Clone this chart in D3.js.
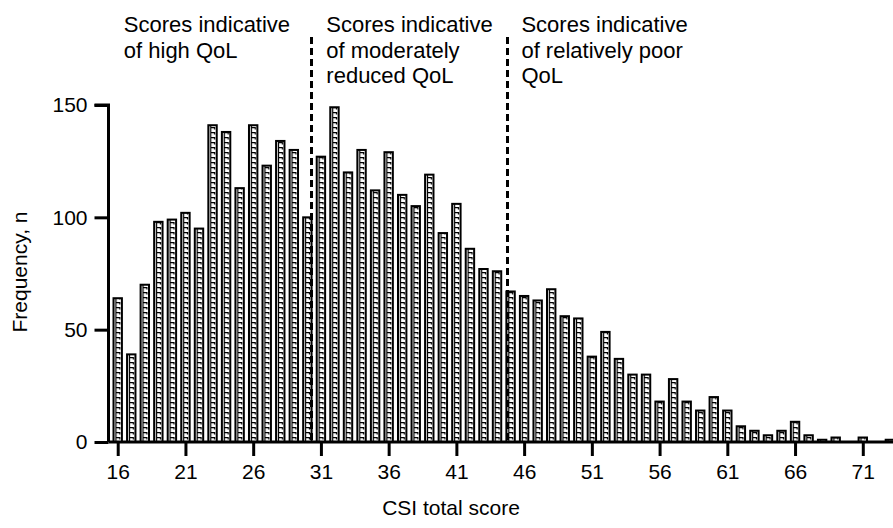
<!DOCTYPE html>
<html>
<head>
<meta charset="utf-8">
<script src="https://cdn.jsdelivr.net/npm/d3@7"></script>
<style>
  html, body { margin: 0; padding: 0; background: #fff; }
  svg { display: block; font-family: "Liberation Sans", Arial, sans-serif; }
</style>
</head>
<body>
<svg id="chart" width="893" height="528"></svg>
<script>
// ---- Data ----
const scores = d3.range(16, 74);
const frequencies = [64,39,70,98,99,102,95,141,138,113,141,123,134,130,100,127,
  149,120,130,112,129,110,105,119,93,106,86,77,76,67,
  65,63,68,56,55,38,49,37,30,30,18,28,18,14,20,14,7,5,3,5,9,3,1,2,0,2,0,1];
const xTicks = [16,21,26,31,36,41,46,51,56,61,66,71];
const yTicks = [0,50,100,150];
const cutoffs = [30.25, 44.72];
const regionLabels = [
  ["Scores indicative", "of high QoL"],
  ["Scores indicative", "of moderately", "reduced QoL"],
  ["Scores indicative", "of relatively poor", "QoL"]
];
const regionLabelScores = [16.45, 31.4, 45.8];
const xTitle = "CSI total score";
const yTitle = "Frequency, n";

// ---- Layout ----
const svg = d3.select("#chart");
const x = d3.scaleLinear().domain([15.32, 73.23]).range([108.5, 893]);
const y = d3.scaleLinear().domain([0, 150]).range([442, 105]);
const step = x(17) - x(16);
const barW = 8.4;
const ph = 5;

// pattern
const defs = svg.append("defs");
const pat = defs.append("pattern")
  .attr("id", "brick")
  .attr("patternUnits", "userSpaceOnUse")
  .attr("x", x(16) - barW / 2)
  .attr("y", y(0))
  .attr("width", step)
  .attr("height", ph);
pat.append("rect").attr("width", step).attr("height", ph).attr("fill", "#fff");
pat.append("path")
  .attr("d", `M2.4,0V${ph}M2.4,0.7H6.3V2.6`)
  .attr("fill", "none").attr("stroke", "#000").attr("stroke-width", 1.3);

const data = scores.map((s, i) => ({ s, v: frequencies[i] }));

svg.append("g").selectAll("rect")
  .data(data.filter(d => d.v > 0))
  .join("rect")
  .attr("x", d => x(d.s) - barW / 2)
  .attr("width", barW)
  .attr("y", d => y(d.v))
  .attr("height", d => y(0) - y(d.v))
  .attr("fill", "url(#brick)")
  .attr("stroke", "#000")
  .attr("stroke-width", 2);

// cutoff dashed lines
svg.append("g").selectAll("line")
  .data(cutoffs)
  .join("line")
  .attr("x1", d => Math.round(x(d)) + 0.5).attr("x2", d => Math.round(x(d)) + 0.5)
  .attr("y1", 37).attr("y2", y(0))
  .attr("stroke", "#000")
  .attr("stroke-width", 3)
  .attr("stroke-dasharray", "7,4");

// axes
const yAxis = d3.axisLeft(y).tickValues(yTicks).tickSize(14).tickPadding(7);
const gy = svg.append("g").attr("transform", `translate(${x.range()[0]},0)`).call(yAxis);
const xAxis = d3.axisBottom(x).tickValues(xTicks).tickSize(14).tickPadding(8);
const gx = svg.append("g").attr("transform", `translate(0,${y(0)})`).call(xAxis);
[gx, gy].forEach(g => {
  g.select(".domain").attr("stroke", "#000").attr("stroke-width", 3);
  g.selectAll(".tick line").attr("stroke", "#000").attr("stroke-width", 3);
  g.selectAll(".tick text").attr("fill", "#000").attr("font-size", 21)
    .attr("font-family", "Liberation Sans, Arial, sans-serif");
});
gy.select(".domain").attr("d", `M-14,${y(150)}H0V${y(0)}`);
gx.select(".domain").attr("d", `M${x.range()[0]},0H893`);

// axis titles
svg.append("text")
  .attr("x", 451).attr("y", 515)
  .attr("text-anchor", "middle").attr("font-size", 21)
  .text(xTitle);
svg.append("text")
  .attr("transform", "translate(27,272) rotate(-90)")
  .attr("text-anchor", "middle").attr("font-size", 21)
  .text(yTitle);

// region labels
regionLabels.forEach((lines, i) => {
  const t = svg.append("text")
    .attr("x", x(regionLabelScores[i]))
    .attr("y", 32)
    .attr("font-size", 22);
  lines.forEach((ln, j) => {
    t.append("tspan").attr("x", x(regionLabelScores[i])).attr("dy", j === 0 ? 0 : 25.5).text(ln);
  });
});
</script>
</body>
</html>
